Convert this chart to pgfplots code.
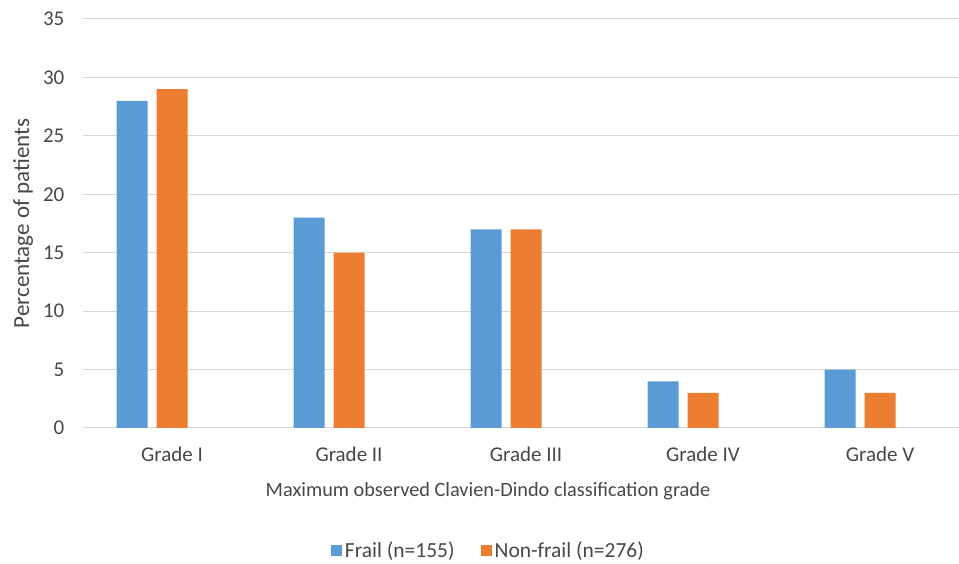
\documentclass[border=0pt]{standalone}
\usepackage{fontspec}
\setmainfont{Carlito}
\usepackage{pgfplots}
\pgfplotsset{compat=1.18}

\definecolor{frail}{HTML}{5B9BD5}
\definecolor{nonfrail}{HTML}{ED7D31}
\definecolor{gridgray}{HTML}{D9D9D9}
\definecolor{txt}{HTML}{474747}

% category index, percentage of patients
\pgfplotstableread{
x y
0 28
1 18
2 17
3 4
4 5
}\frailtab
\pgfplotstableread{
x y
0 29
1 15
2 17
3 3
4 3
}\nonfrailtab

\begin{document}
\begin{tikzpicture}
\useasboundingbox (-83.5pt,-136pt) rectangle (875.5pt,428pt);
\begin{axis}[
    at={(0,0)}, anchor=south west,
    scale only axis,
    width=875.5pt, height=409pt,
    xmin=-0.5, xmax=4.446,
    ymin=0, ymax=35,
    ytick={0,5,...,35},
    xtick={0,1,2,3,4},
    xticklabels={Grade I, Grade II, Grade III, Grade IV, Grade V},
    major tick length=0pt,
    axis x line*=bottom,
    axis y line*=left,
    x axis line style={draw=gridgray, line width=1pt, -},
    y axis line style={draw=none},
    ymajorgrids,
    grid style={draw=gridgray, line width=1pt},
    /pgf/number format/assume math mode=true,
    tick label style={font=\fontsize{21}{25}\selectfont, text=txt},
    yticklabel style={anchor=east, inner sep=0pt, xshift=-19pt},
    xticklabel style={anchor=north, inner sep=0pt, yshift=-19pt},
    xlabel={Maximum observed Clavien-Dindo classification grade},
    xlabel style={at={(axis description cs:0.462,-0.1687)}, anchor=base,
        font=\fontsize{20.3}{24}\selectfont, text=txt},
    ylabel={Percentage of patients},
    ylabel style={at={(axis description cs:-0.069,0.5)}, anchor=center,
        font=\fontsize{23}{27}\selectfont, text=txt},
    ybar, bar width=31pt,
    legend columns=2,
    legend style={at={(axis description cs:0.4625,-0.3)}, anchor=center,
        draw=none, fill=none, font=\fontsize{21.5}{25}\selectfont, text=txt,
        /tikz/every odd column/.append style={column sep=1pt},
        /tikz/every even column/.append style={column sep=24pt}},
    legend image code/.code={\fill[#1] (0pt,-5.5pt) rectangle (11pt,5.5pt);},
]
\addplot[fill=frail, draw=none, bar shift=-40pt] table {\frailtab};
\addplot[fill=nonfrail, draw=none, bar shift=0pt] table {\nonfrailtab};
\legend{Frail (n=155), Non-frail (n=276)}
\end{axis}
\end{tikzpicture}
\end{document}
